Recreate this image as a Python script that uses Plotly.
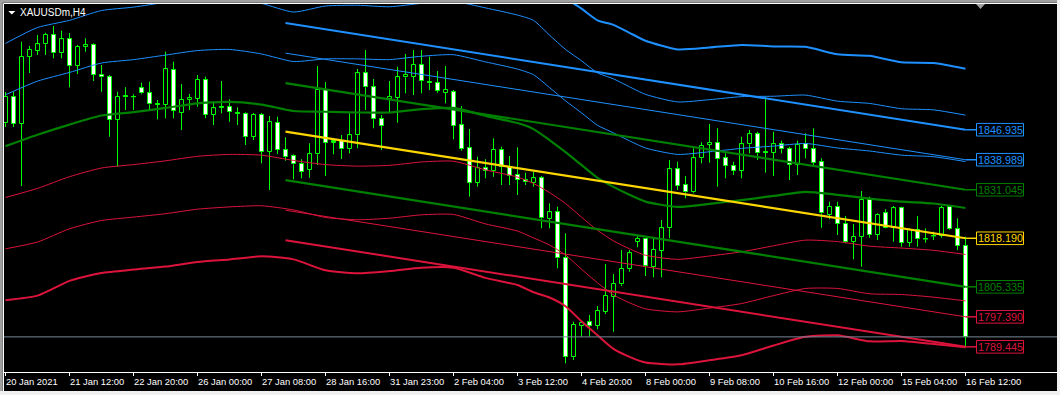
import plotly.graph_objects as go

# ---------------- data (prices) ----------------
bars = list(range(121))

opens = [1848.64, 1855.68, 1848.45, 1866.28, 1867.79, 1869.56, 1872.02, 1867.18, 1870.88, 1863.81,
         1868.92, 1869.37, 1861.43, 1860.82, 1849.51, 1855.52, 1855.52, 1857.91, 1856.58, 1853.56,
         1853.48, 1862.75, 1851.45, 1854.81, 1855.07, 1860.11, 1850.84, 1852.74, 1852.88, 1851.15,
         1851.10, 1845.09, 1850.84, 1841.12, 1848.80, 1841.57, 1839.98, 1837.86, 1836.27, 1840.43,
         1857.46, 1843.55, 1844.03, 1841.75, 1845.46, 1861.88, 1858.17, 1849.70, 1854.99, 1855.42,
         1860.82, 1860.98, 1864.08, 1859.65, 1859.23, 1856.74, 1856.85, 1848.11, 1842.02, 1832.91,
         1836.72, 1836.09, 1841.57, 1837.15, 1834.95, 1833.62, 1832.91, 1834.07, 1823.22, 1825.07,
         1812.89, 1786.67, 1794.96, 1795.94, 1794.96, 1798.75, 1802.72, 1806.00, 1809.98, 1817.29,
         1818.00, 1810.67, 1814.90, 1820.83, 1836.46, 1832.30, 1830.37, 1839.37, 1842.89, 1843.50,
         1839.37, 1837.33, 1836.01, 1843.08, 1845.73, 1840.77, 1840.85, 1843.08, 1841.75, 1837.60,
         1843.08, 1841.75, 1838.47, 1824.36, 1826.55, 1821.97, 1817.29, 1818.61, 1828.33, 1819.06,
         1824.81, 1820.99, 1826.13, 1817.02, 1820.38, 1817.92, 1818.72, 1818.80, 1826.40, 1820.57,
         1816.15]
highs = [1856.93, 1857.01, 1870.25, 1869.11, 1872.02, 1872.63, 1874.41, 1873.16, 1872.55, 1869.37,
         1871.15, 1869.82, 1864.08, 1861.43, 1857.01, 1858.17, 1856.32, 1859.39, 1859.65, 1854.81,
         1867.60, 1864.95, 1859.05, 1856.40, 1861.43, 1860.98, 1854.36, 1859.84, 1854.99, 1852.88,
         1851.55, 1851.37, 1851.37, 1850.57, 1850.39, 1844.93, 1840.43, 1839.11, 1843.34, 1863.81,
         1859.58, 1844.67, 1845.54, 1851.29, 1863.02, 1868.05, 1860.37, 1850.84, 1859.84, 1863.63,
         1866.99, 1868.05, 1868.05, 1866.28, 1862.49, 1863.81, 1857.46, 1853.22, 1847.13, 1839.79,
         1839.11, 1844.67, 1842.44, 1839.98, 1842.28, 1835.56, 1835.82, 1834.68, 1827.45, 1826.55,
         1819.51, 1796.10, 1796.10, 1797.88, 1800.26, 1811.38, 1808.73, 1815.09, 1815.09, 1818.80,
         1818.19, 1818.19, 1823.03, 1838.92, 1838.47, 1834.68, 1842.02, 1843.61, 1848.45, 1847.32,
         1840.69, 1838.47, 1845.09, 1846.87, 1846.42, 1855.60, 1846.42, 1844.03, 1842.44, 1844.03,
         1845.99, 1847.32, 1839.37, 1827.88, 1827.88, 1824.09, 1821.97, 1830.71, 1829.20, 1824.81,
         1825.87, 1826.74, 1826.55, 1820.83, 1824.09, 1820.83, 1819.93, 1826.74, 1826.74, 1823.48,
         1818.61]
lows = [1847.66, 1847.66, 1832.03, 1861.96, 1866.73, 1866.73, 1865.85, 1865.85, 1858.17, 1861.69,
        1867.60, 1859.84, 1857.01, 1845.09, 1837.15, 1852.16, 1852.16, 1856.32, 1852.16, 1849.70,
        1849.96, 1849.96, 1846.87, 1852.16, 1853.03, 1849.96, 1848.19, 1851.29, 1849.06, 1848.19,
        1842.89, 1844.22, 1838.05, 1830.98, 1840.51, 1838.74, 1833.81, 1834.07, 1834.23, 1837.60,
        1834.68, 1840.43, 1839.19, 1840.69, 1842.02, 1852.16, 1847.32, 1841.57, 1851.29, 1848.80,
        1856.58, 1856.13, 1856.58, 1857.46, 1856.74, 1853.94, 1844.40, 1841.38, 1829.20, 1831.85,
        1834.07, 1834.50, 1832.30, 1832.30, 1829.65, 1832.30, 1831.85, 1820.83, 1820.83, 1810.24,
        1785.08, 1785.96, 1792.13, 1792.13, 1794.09, 1798.14, 1793.45, 1805.55, 1809.34, 1815.80,
        1808.20, 1807.86, 1807.86, 1818.19, 1830.98, 1828.78, 1830.10, 1838.05, 1838.21, 1831.85,
        1834.07, 1834.95, 1834.07, 1840.69, 1838.92, 1835.56, 1834.68, 1840.69, 1833.62, 1834.95,
        1839.37, 1837.60, 1820.99, 1823.22, 1819.06, 1816.86, 1812.63, 1810.67, 1818.34, 1817.74,
        1820.83, 1817.29, 1815.96, 1815.96, 1815.96, 1817.02, 1817.74, 1818.34, 1820.38, 1815.09,
        1789.27]
closes = [1855.68, 1848.45, 1866.28, 1868.05, 1869.56, 1872.02, 1867.18, 1870.88, 1863.81, 1868.92,
          1869.29, 1861.43, 1860.82, 1849.51, 1855.68, 1855.79, 1855.68, 1856.58, 1853.67, 1853.75,
          1862.94, 1851.90, 1854.81, 1855.26, 1860.11, 1850.84, 1852.61, 1853.01, 1851.55, 1851.42,
          1845.09, 1850.84, 1841.12, 1848.90, 1841.57, 1839.79, 1837.78, 1835.82, 1840.43, 1857.46,
          1843.50, 1843.82, 1841.75, 1845.46, 1861.88, 1858.17, 1849.70, 1848.00, 1855.68, 1860.82,
          1861.43, 1864.08, 1859.92, 1859.23, 1857.27, 1857.46, 1848.00, 1841.83, 1832.91, 1836.72,
          1836.09, 1841.57, 1837.15, 1834.68, 1833.62, 1833.01, 1834.07, 1823.48, 1825.07, 1812.89,
          1786.83, 1795.23, 1795.84, 1794.96, 1798.93, 1802.91, 1806.08, 1810.06, 1814.21, 1818.00,
          1810.85, 1815.09, 1820.83, 1836.46, 1832.03, 1830.37, 1839.37, 1842.71, 1843.50, 1839.11,
          1837.33, 1836.01, 1843.08, 1845.73, 1840.69, 1840.96, 1843.08, 1841.75, 1837.60, 1842.89,
          1841.75, 1838.21, 1824.81, 1826.55, 1821.97, 1817.29, 1818.61, 1828.33, 1819.06, 1824.36,
          1820.99, 1826.13, 1817.02, 1820.38, 1817.92, 1818.00, 1818.80, 1826.13, 1820.57, 1816.15,
          1792.08]

time_label_bars = [0, 8, 16, 24, 32, 40, 48, 56, 64, 72, 80, 88, 96, 104, 112, 120]
time_labels = ["20 Jan 2021", "21 Jan 12:00", "22 Jan 20:00", "26 Jan 00:00", "27 Jan 08:00",
               "28 Jan 16:00", "31 Jan 23:00", "2 Feb 04:00", "3 Feb 12:00", "4 Feb 20:00",
               "8 Feb 00:00", "9 Feb 08:00", "10 Feb 16:00", "12 Feb 00:00", "15 Feb 04:00",
               "16 Feb 12:00"]

# band set 1 (curved bands, sampled bars)
bb_bars = [0, 4, 8, 12, 16, 20, 24, 28, 32, 36, 40, 44, 48, 52, 56, 60, 64, 66, 68, 70, 72, 74, 76, 78,
           80, 84, 88, 92, 96, 100, 104, 108, 112, 116, 120]
bb_mid = [1842.6, 1845.6, 1848.3, 1850.7, 1851.6, 1852.7, 1853.9, 1854.3, 1853.6, 1851.9, 1851.7, 1851.5,
          1851.5, 1852.4, 1852.7, 1850.6, 1848.7, 1847.1, 1844.2, 1841.0, 1837.6, 1834.2, 1831.8, 1829.7,
          1827.9, 1826.5, 1827.3, 1828.3, 1829.4, 1830.5, 1829.7, 1828.7, 1827.9, 1827.4, 1826.2]
bb_up1 = [1856.2, 1859.8, 1862.1, 1864.6, 1865.5, 1866.7, 1867.9, 1868.2, 1867.0, 1865.0, 1865.7, 1865.7,
          1865.5, 1866.4, 1866.8, 1864.9, 1863.0, 1861.5, 1858.1, 1854.6, 1851.4, 1848.1, 1846.1, 1844.0,
          1842.1, 1840.4, 1841.1, 1842.0, 1842.6, 1843.3, 1842.1, 1841.3, 1840.2, 1839.8, 1838.5]
bb_up2 = [1869.8, 1874.0, 1875.9, 1878.5, 1879.4, 1880.7, 1881.9, 1882.1, 1880.4, 1878.1, 1879.7, 1879.9,
          1879.5, 1880.4, 1880.9, 1879.2, 1877.3, 1875.9, 1872.0, 1868.2, 1865.2, 1862.0, 1860.4, 1858.3,
          1856.3, 1854.3, 1854.9, 1855.7, 1855.8, 1856.1, 1854.5, 1853.9, 1852.5, 1852.2, 1850.8]
bb_up3 = [1883.4, 1888.2, 1889.7, 1892.4, 1893.3, 1894.7, 1895.9, 1896.0, 1893.8, 1891.2, 1893.7, 1894.1,
          1893.5, 1894.4, 1895.0, 1893.5, 1891.6, 1890.3, 1885.9, 1881.8, 1879.0, 1875.9, 1874.7, 1872.6,
          1870.5, 1868.2, 1868.7, 1869.4, 1869.0, 1868.9, 1866.9, 1866.5, 1864.8, 1864.6, 1863.1]
bb_dn1 = [1829.0, 1831.4, 1834.5, 1836.8, 1837.7, 1838.7, 1839.9, 1840.4, 1840.2, 1838.8, 1837.7, 1837.3,
          1837.5, 1838.4, 1838.6, 1836.3, 1834.4, 1832.7, 1830.3, 1827.4, 1823.8, 1820.3, 1817.5, 1815.4,
          1813.7, 1812.6, 1813.5, 1814.6, 1816.2, 1817.7, 1817.3, 1816.1, 1815.6, 1815.0, 1813.9]
bb_dn2 = [1815.4, 1817.2, 1820.7, 1822.9, 1823.8, 1824.7, 1825.9, 1826.5, 1826.8, 1825.7, 1823.7, 1823.1,
          1823.5, 1824.4, 1824.5, 1822.0, 1820.1, 1818.3, 1816.4, 1813.8, 1810.0, 1806.4, 1803.2, 1801.1,
          1799.5, 1798.7, 1799.7, 1800.9, 1803.0, 1804.9, 1804.9, 1803.5, 1803.3, 1802.6, 1801.6]
bb_dn3 = [1801.8, 1803.0, 1806.9, 1809.0, 1809.9, 1810.7, 1811.9, 1812.6, 1813.4, 1812.6, 1809.7, 1808.9,
          1809.5, 1810.4, 1810.4, 1807.7, 1805.8, 1803.9, 1802.5, 1800.2, 1796.2, 1792.5, 1788.9, 1786.8,
          1785.3, 1784.8, 1785.9, 1787.2, 1789.8, 1792.1, 1792.5, 1790.9, 1791.0, 1790.2, 1789.3]

# band set 2 (straight channel, start and end bar)
ch_bars = [35, 120]
ch_mid = [1846.42, 1818.190]
ch_up1 = [1859.28, 1831.045]
ch_up2 = [1867.22, 1838.989]
ch_up3 = [1875.17, 1846.935]
ch_dn1 = [1833.57, 1805.335]
ch_dn2 = [1825.62, 1797.390]
ch_dn3 = [1817.68, 1789.445]

label_prices = [1846.935, 1838.989, 1831.045, 1818.190, 1805.335, 1797.390, 1789.445]
label_texts = ["1846.935", "1838.989", "1831.045", "1818.190", "1805.335", "1797.390", "1789.445"]

chart_title = "XAUUSDm,H4"

# ---------------- style / geometry ----------------
W, H = 1060, 395
PL, PR, PT, PB = 4, 975, 4, 372          # plot area in pixels
BAR_PX = 8.0
X0 = -0.1875
X1 = X0 + (PR - PL) / BAR_PX
Y_RANGE = [1782.78, 1880.23]

LIME = '#00FF00'
BLUE = '#1E90FF'
RED = '#DC143C'
GREEN = '#008000'
GOLD = '#FFD700'
FONT = 'Liberation Sans, Arial, sans-serif'
label_colors = [BLUE, BLUE, GREEN, GOLD, GREEN, RED, RED]


def pxx(px):
    return (px - PL) / (PR - PL)


def pxy(py):
    return (PB - py) / (PB - PT)


fig = go.Figure()

# candle bodies (bars) -- drawn under the line layer
bull = [i for i in bars if closes[i] >= opens[i]]
bear = [i for i in bars if closes[i] < opens[i]]
for idx, fill in ((bull, '#000000'), (bear, '#FFFFFF')):
    fig.add_trace(go.Bar(
        x=[bars[i] for i in idx],
        y=[abs(closes[i] - opens[i]) for i in idx],
        base=[min(opens[i], closes[i]) for i in idx],
        width=0.5,
        marker=dict(color=fill, line=dict(color=LIME, width=1)),
        hoverinfo='skip', showlegend=False))

# wicks (outside the bodies) and doji ticks
wx, wy = [], []
for i in bars:
    top = max(opens[i], closes[i])
    bot = min(opens[i], closes[i])
    wx += [bars[i], bars[i], None, bars[i], bars[i], None]
    wy += [highs[i], top, None, bot, lows[i], None]
    if top - bot < 0.3:
        wx += [bars[i] - 0.31, bars[i] + 0.31, None]
        wy += [closes[i], closes[i], None]
fig.add_trace(go.Scatter(x=wx, y=wy, mode='lines', line=dict(color=LIME, width=1),
                         hoverinfo='skip', showlegend=False))

# band set 1
for vals, col, w in ((bb_up3, BLUE, 2), (bb_up2, BLUE, 1), (bb_up1, BLUE, 1),
                     (bb_dn1, RED, 1), (bb_dn2, RED, 1), (bb_dn3, RED, 2),
                     (bb_mid, GREEN, 2.2)):
    fig.add_trace(go.Scatter(x=bb_bars, y=vals, mode='lines',
                             line=dict(color=col, width=w, shape='spline', smoothing=0.6),
                             hoverinfo='skip', showlegend=False))

# band set 2
for vals, col, w in ((ch_up3, BLUE, 2), (ch_up2, BLUE, 1), (ch_up1, GREEN, 2.2),
                     (ch_dn1, GREEN, 2.2), (ch_dn2, RED, 1), (ch_dn3, RED, 2),
                     (ch_mid, GOLD, 2.2)):
    fig.add_trace(go.Scatter(x=ch_bars, y=vals, mode='lines', line=dict(color=col, width=w),
                             hoverinfo='skip', showlegend=False))

shapes = []
# outer window border
shapes.append(dict(type='rect', xref='paper', yref='paper', x0=pxx(-2), x1=pxx(W + 2),
                   y0=pxy(-2), y1=pxy(2.8), fillcolor='#A0A0A0', line=dict(width=0), layer='above'))
shapes.append(dict(type='rect', xref='paper', yref='paper', x0=pxx(-2), x1=pxx(2.8),
                   y0=pxy(H + 2), y1=pxy(-2), fillcolor='#A0A0A0', line=dict(width=0), layer='above'))
shapes.append(dict(type='rect', xref='paper', yref='paper', x0=pxx(1057), x1=pxx(W + 2),
                   y0=pxy(H + 2), y1=pxy(-2), fillcolor='#F0F0F0', line=dict(width=0), layer='above'))
shapes.append(dict(type='rect', xref='paper', yref='paper', x0=pxx(-2), x1=pxx(W + 2),
                   y0=pxy(H + 2), y1=pxy(391), fillcolor='#F0F0F0', line=dict(width=0), layer='above'))
# white frame lines
shapes.append(dict(type='line', xref='paper', yref='paper', x0=pxx(3.5), x1=pxx(1057),
                   y0=pxy(3.5), y1=pxy(3.5), line=dict(color='#FFFFFF', width=1), layer='above'))
shapes.append(dict(type='line', xref='paper', yref='paper', x0=pxx(3.5), x1=pxx(3.5),
                   y0=pxy(3.5), y1=pxy(391), line=dict(color='#FFFFFF', width=1), layer='above'))
shapes.append(dict(type='line', xref='paper', yref='paper', x0=pxx(3.5), x1=pxx(1057),
                   y0=pxy(372.5), y1=pxy(372.5), line=dict(color='#FFFFFF', width=1), layer='above'))
# bid line at last close
shapes.append(dict(type='line', xref='paper', yref='y', x0=pxx(4), x1=pxx(1057),
                   y0=closes[-1], y1=closes[-1], line=dict(color='#778899', width=1), layer='above'))
# chart-shift marker and title triangle
shapes.append(dict(type='path', xref='paper', yref='paper',
                   path='M %f,%f L %f,%f L %f,%f Z' % (pxx(976), pxy(4), pxx(985), pxy(4), pxx(980.5), pxy(9)),
                   fillcolor='#A0A0A0', line=dict(width=0), layer='above'))
shapes.append(dict(type='path', xref='paper', yref='paper',
                   path='M %f,%f L %f,%f L %f,%f Z' % (pxx(8.3), pxy(11), pxx(15.3), pxy(11), pxx(11.8), pxy(14.5)),
                   fillcolor='#FFFFFF', line=dict(width=0), layer='above'))

annotations = []
# right-side price labels
for p, txt, col in zip(label_prices, label_texts, label_colors):
    shapes.append(dict(type='line', xref='paper', yref='y', x0=pxx(965.5), x1=pxx(976.5),
                       y0=p, y1=p, line=dict(color=col, width=1.5), layer='above'))
    shapes.append(dict(type='rect', xref='paper', yref='y', ysizemode='pixel', yanchor=p,
                       x0=pxx(976.5), x1=pxx(1023.5), y0=-6.3, y1=6.3,
                       fillcolor='#000000', line=dict(color=col, width=1), layer='above'))
    annotations.append(dict(xref='paper', yref='y', x=pxx(1000), y=p, text=txt, showarrow=False,
                            xanchor='center', yanchor='middle', borderpad=0, borderwidth=0,
                            font=dict(family=FONT, size=10.8, color=col)))

# time labels, left aligned at their ticks
for b, txt in zip(time_label_bars, time_labels):
    annotations.append(dict(xref='x', yref='paper', x=b, y=pxy(381.5), text=txt, showarrow=False,
                            xanchor='left', yanchor='middle', borderpad=0, borderwidth=0,
                            xshift=0.5, font=dict(family=FONT, size=9.4, color='#FFFFFF')))

# title
annotations.append(dict(xref='paper', yref='paper', x=pxx(20), y=pxy(12.5), text=chart_title,
                        showarrow=False, xanchor='left', yanchor='middle', borderpad=0, borderwidth=0,
                        font=dict(family=FONT, size=10, color='#FFFFFF')))

fig.update_layout(
    width=W, height=H,
    margin=dict(l=PL, r=W - PR, t=PT, b=H - PB, pad=0),
    paper_bgcolor='#000000', plot_bgcolor='#000000',
    showlegend=False, barmode='overlay', bargap=0,
    xaxis=dict(range=[X0, X1], showgrid=False, zeroline=False, showline=False,
               tickvals=time_label_bars, ticks='outside', ticklen=3, tickwidth=1,
               tickcolor='#FFFFFF', showticklabels=False, fixedrange=True),
    yaxis=dict(range=Y_RANGE, showgrid=False, zeroline=False, showline=False,
               showticklabels=False, ticks='', fixedrange=True),
    shapes=shapes, annotations=annotations,
    font=dict(family=FONT, color='#FFFFFF'),
)

fig.write_html("out.html", config={'displayModeBar': False})
